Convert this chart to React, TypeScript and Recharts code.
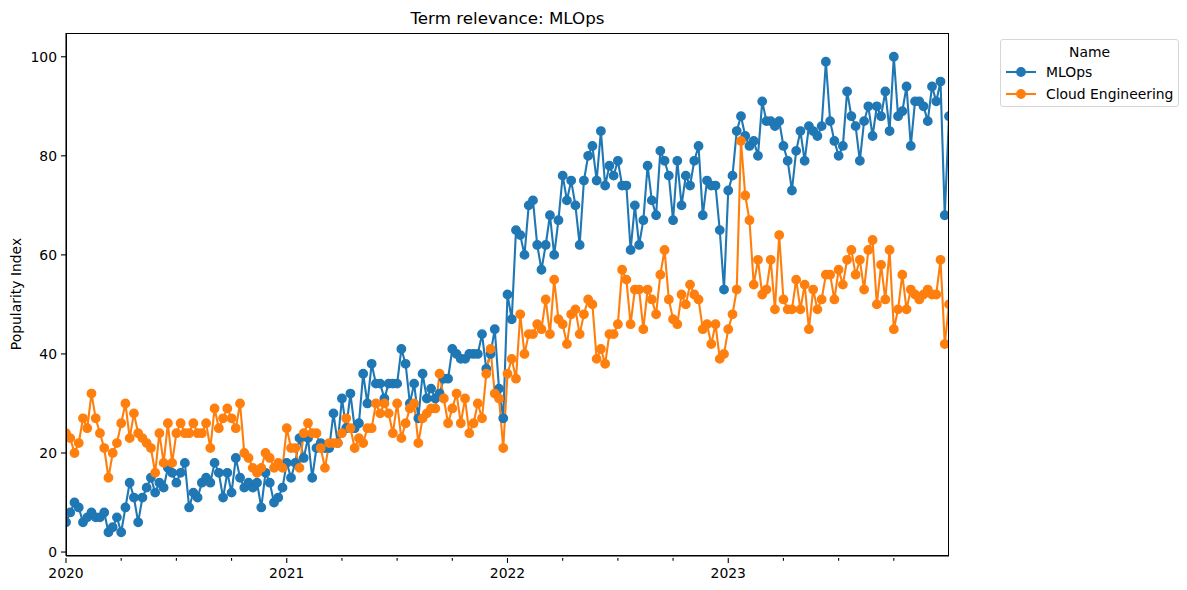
import { Line, LineChart, XAxis, YAxis } from "recharts";

// weekly popularity index, first week of 2020 to last week of 2023
const MLOPS = [
  6, 8, 10, 9, 6, 7, 8, 7, 7, 8,
  4, 5, 7, 4, 9, 14, 11, 6, 11, 13,
  15, 12, 14, 13, 17, 16, 14, 16, 18, 9,
  12, 11, 14, 15, 14, 18, 16, 11, 16, 12,
  19, 15, 13, 14, 13, 14, 9, 16, 14, 10,
  11, 13, 18, 15, 18, 23, 19, 23, 15, 21,
  22, 21, 21, 28, 22, 31, 25, 32, 25, 26,
  36, 30, 38, 34, 34, 31, 34, 34, 34, 41,
  38, 30, 34, 27, 36, 31, 33, 31, 32, 35,
  35, 41, 40, 39, 39, 40, 40, 40, 44, 37,
  40, 45, 33, 27, 52, 47, 65, 64, 60, 70,
  71, 62, 57, 62, 68, 60, 67, 76, 71, 75,
  70, 62, 75, 80, 82, 75, 85, 74, 78, 76,
  79, 74, 74, 61, 70, 62, 67, 78, 71, 68,
  81, 79, 76, 67, 79, 70, 76, 74, 79, 82,
  68, 75, 74, 74, 65, 53, 73, 76, 85, 88,
  84, 82, 83, 80, 91, 87, 87, 86, 87, 82,
  79, 73, 81, 85, 79, 86, 85, 84, 86, 99,
  87, 83, 80, 82, 93, 88, 86, 79, 87, 90,
  84, 90, 88, 93, 85, 100, 88, 89, 94, 82,
  91, 91, 90, 87, 94, 91, 95, 68, 88,
];

const CLOUD = [
  24, 23, 20, 22, 27, 25, 32, 27, 24, 21,
  15, 20, 22, 26, 30, 23, 28, 24, 23, 22,
  21, 16, 24, 18, 26, 18, 24, 26, 24, 24,
  26, 24, 24, 26, 21, 29, 25, 27, 29, 27,
  25, 30, 20, 19, 17, 16, 17, 20, 19, 17,
  18, 17, 25, 21, 21, 17, 24, 26, 24, 24,
  21, 17, 22, 22, 22, 24, 27, 25, 21, 23,
  22, 25, 25, 30, 28, 30, 28, 24, 30, 23,
  26, 29, 30, 22, 27, 28, 29, 29, 36, 31,
  26, 29, 32, 26, 31, 24, 26, 30, 27, 36,
  41, 32, 31, 21, 36, 39, 35, 48, 40, 44,
  44, 46, 45, 51, 44, 55, 47, 46, 42, 48,
  49, 44, 48, 51, 50, 39, 41, 38, 44, 44,
  46, 57, 55, 46, 53, 53, 45, 53, 51, 48,
  56, 61, 51, 47, 46, 52, 50, 54, 52, 51,
  45, 46, 42, 46, 39, 40, 45, 48, 53, 83,
  72, 67, 54, 59, 52, 53, 59, 49, 64, 51,
  49, 49, 55, 49, 54, 45, 53, 49, 51, 56,
  56, 51, 57, 54, 59, 61, 56, 59, 53, 61,
  63, 50, 58, 51, 61, 45, 49, 56, 49, 53,
  52, 51, 52, 53, 52, 52, 59, 42, 50,
];

// week index of the first week of each year / quarter
const YEAR_TICKS = [0, 52, 104, 156];
const YEAR_LABELS = ["2020", "2021", "2022", "2023"];
const QUARTER_TICKS = [13, 26, 39, 65, 78, 91, 117, 130, 143, 169, 182, 195];
const Y_TICKS = [0, 20, 40, 60, 80, 100];

const FONT = '"DejaVu Sans", sans-serif';
const BLUE = "#1f77b4";
const ORANGE = "#ff7f0e";
const Y_DOMAIN: [number, number] = [-0.8, 104.8];
const LAST = MLOPS.length - 1;

const rows = MLOPS.map((v, i) => ({ week: i, mlops: v, cloud: CLOUD[i] }));
const allTicks = [...YEAR_TICKS, ...QUARTER_TICKS].sort((a, b) => a - b);

const XTick = (props: any) => {
  const { x, y, payload } = props;
  const idx = YEAR_TICKS.indexOf(payload.value);
  const major = idx >= 0;
  return (
    <g>
      <line x1={x} x2={x} y1={y} y2={y + (major ? 4.9 : 2.8)} stroke="#000" strokeWidth={1.1} />
      {major && (
        <text x={x} y={y + 19.5} textAnchor="middle" fill="#000" fontSize={13.9} fontFamily={FONT}>
          {YEAR_LABELS[idx]}
        </text>
      )}
    </g>
  );
};

const LegendRow = ({ color, label, top }: { color: string; label: string; top: number }) => (
  <div style={{ position: "absolute", left: 0, top, height: 20, width: "100%" }}>
    <svg width={40} height={20} style={{ position: "absolute", left: 4, top: 0 }}>
      <line x1={1} x2={31} y1={10} y2={10} stroke={color} strokeWidth={2.1} />
      <circle cx={16} cy={10} r={4.2} fill={color} stroke={color} strokeWidth={1.4} />
    </svg>
    <span style={{ position: "absolute", left: 45, top: 2, fontSize: 13.9, lineHeight: "16px", whiteSpace: "nowrap" }}>
      {label}
    </span>
  </div>
);

export default function App() {
  return (
    <div style={{ position: "absolute", left: 0, top: 0, width: 1187, height: 590, background: "#fff", fontFamily: FONT, color: "#000" }}>
      <div style={{ position: "absolute", left: 66, top: 8, width: 883, textAlign: "center", fontSize: 16.7, lineHeight: "20px" }}>
        Term relevance: MLOps
      </div>
      <div
        style={{
          position: "absolute", left: 16 - 100, top: 294 - 9, width: 200, height: 18,
          textAlign: "center", fontSize: 13.9, lineHeight: "18px", transform: "rotate(-90deg)",
        }}
      >
        Popularity Index
      </div>

      <LineChart width={1187} height={590} data={rows} margin={{ top: 33, right: 238, bottom: 0, left: 0 }}>
        <XAxis
          dataKey="week" type="number" domain={[0, LAST]} ticks={allTicks} interval={0}
          tick={(p: any) => <XTick {...p} />} tickSize={0} tickLine={false} height={34}
          axisLine={{ stroke: "#000", strokeWidth: 1.1 }} allowDataOverflow
        />
        <YAxis
          domain={Y_DOMAIN} ticks={Y_TICKS} width={66} allowDataOverflow type="number"
          tickSize={5} tickMargin={4} interval={0}
          tick={{ fill: "#000", fontSize: 13.9, fontFamily: FONT }}
          tickLine={{ stroke: "#000", strokeWidth: 1.1 }} axisLine={{ stroke: "#000", strokeWidth: 1.1 }}
        />
        <Line
          type="linear" dataKey="mlops" name="MLOps" stroke={BLUE} strokeWidth={2.1}
          dot={{ r: 4.2, fill: BLUE, stroke: BLUE, strokeWidth: 1.4 }} activeDot={false}
          isAnimationActive={false}
        />
        <Line
          type="linear" dataKey="cloud" name="Cloud Engineering" stroke={ORANGE} strokeWidth={2.1}
          dot={{ r: 4.2, fill: ORANGE, stroke: ORANGE, strokeWidth: 1.4 }} activeDot={false}
          isAnimationActive={false}
        />
      </LineChart>

      {/* axes frame (top and right spines) */}
      <div
        style={{
          position: "absolute", left: 65.5, top: 32.5, width: 883, height: 523,
          border: "1.1px solid #000", boxSizing: "border-box", pointerEvents: "none",
        }}
      />

      <div
        style={{
          position: "absolute", left: 1000, top: 39, width: 177, height: 66,
          border: "1px solid #d6d6d6", borderRadius: 3, background: "#fff",
        }}
      >
        <div style={{ position: "absolute", left: 0, top: 3, width: "100%", textAlign: "center", fontSize: 13.9, lineHeight: "18px" }}>
          Name
        </div>
        <LegendRow color={BLUE} label="MLOps" top={22} />
        <LegendRow color={ORANGE} label="Cloud Engineering" top={44} />
      </div>
    </div>
  );
}
